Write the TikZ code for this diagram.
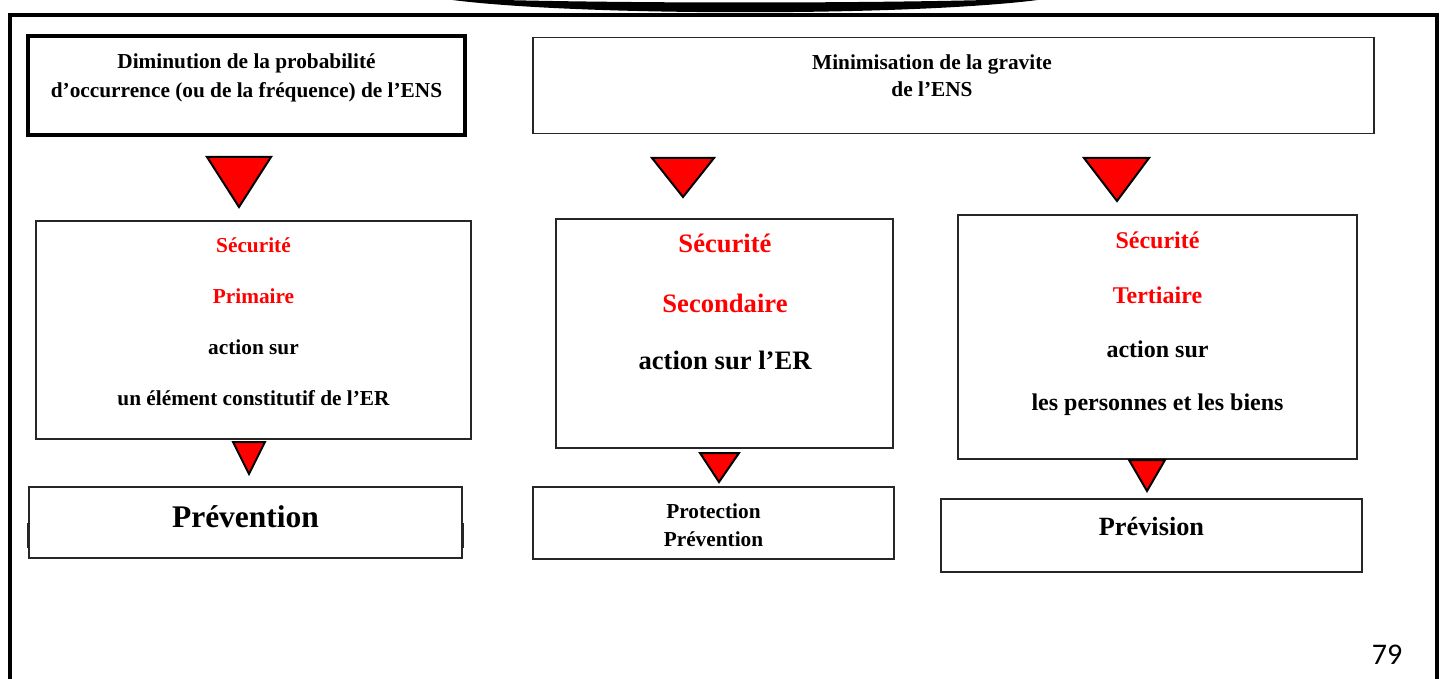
\documentclass[tikz,border=0pt]{standalone}
\usepackage{fontspec}
\setmainfont{Liberation Serif}
\newfontfamily\pagenumfont{Carlito}
\begin{document}
\begin{tikzpicture}[x=1pt,y=-1pt,
  box/.style={draw=black!85, line width=1.6pt, inner sep=0pt, fill=white},
  thickbox/.style={draw=black, line width=4pt, inner sep=0pt, fill=white},
  tri/.style={fill=red, draw=black, line width=2pt, line join=miter},
  lbl/.style={inner sep=0pt, anchor=base, font=\bfseries},
  redlbl/.style={lbl, text=red}
]
\useasboundingbox (0,0) rectangle (1446,679);
\fill[white] (0,0) rectangle (1446,679);

% top swoosh
\fill[black] (438,-2) .. controls (560,17) and (930,17) .. (1052,-2)
  .. controls (900,4) and (590,4) .. (438,-2) -- cycle;

% outer frame
\draw[line width=4pt, line join=miter] (9.5,682) -- (9.5,15) -- (1437,15) -- (1437,682);

% top boxes
\node[thickbox, minimum width=437pt, minimum height=99pt] (A) at (246.5,85.5) {};
\node[lbl, font=\bfseries\fontsize{21.3}{25}\selectfont] (A1) at (246.5,69) {Diminution de la probabilité};
\node[lbl, font=\bfseries\fontsize{21.3}{25}\selectfont] (A2) at (246.5,98) {d’occurrence (ou de la fréquence) de l’ENS};

\node[box, minimum width=841pt, minimum height=96pt] (B) at (953.5,85.5) {};
\node[lbl, font=\bfseries\fontsize{21.3}{25}\selectfont] (B1) at (932,70) {Minimisation de la gravite};
\node[lbl, font=\bfseries\fontsize{21.3}{25}\selectfont] (B2) at (932,97) {de l’ENS};

% middle boxes
\node[box, minimum width=435pt, minimum height=218pt] (C) at (253.5,330) {};
\node[redlbl, font=\bfseries\fontsize{21.3}{25}\selectfont] (C1) at (253.5,252) {Sécurité};
\node[redlbl, font=\bfseries\fontsize{21.3}{25}\selectfont] (C2) at (253.5,303) {Primaire};
\node[lbl, font=\bfseries\fontsize{21.3}{25}\selectfont] (C3) at (253.5,354) {action sur};
\node[lbl, font=\bfseries\fontsize{21.3}{25}\selectfont] (C4) at (253.5,405) {un élément constitutif de l’ER};

\node[box, minimum width=337pt, minimum height=229pt] (E) at (724.5,333.5) {};
\node[redlbl, font=\bfseries\fontsize{26.6}{30}\selectfont] (E1) at (725,253) {Sécurité};
\node[redlbl, font=\bfseries\fontsize{26.6}{30}\selectfont] (E2) at (725,312) {Secondaire};
\node[lbl, font=\bfseries\fontsize{26.6}{30}\selectfont] (E3) at (725,369) {action sur l’ER};

\node[box, minimum width=399pt, minimum height=244pt] (G) at (1157.5,337) {};
\node[redlbl, font=\bfseries\fontsize{24}{28}\selectfont] (G1) at (1157.5,249) {Sécurité};
\node[redlbl, font=\bfseries\fontsize{24}{28}\selectfont] (G2) at (1157.5,303) {Tertiaire};
\node[lbl, font=\bfseries\fontsize{24}{28}\selectfont] (G3) at (1157.5,357) {action sur};
\node[lbl, font=\bfseries\fontsize{24}{28}\selectfont] (G4) at (1157.5,410) {les personnes et les biens};

% bottom boxes
\draw[line width=1.6pt, black!85] (27.5,523) -- (27.5,548) (463.5,523) -- (463.5,548);
\node[box, minimum width=433pt, minimum height=71pt] (D) at (245.5,522.5) {};
\node[lbl, font=\bfseries\fontsize{31.5}{36}\selectfont] (D1) at (245.5,527) {Prévention};

\node[box, line width=2.2pt, minimum width=361pt, minimum height=72pt] (F) at (713.5,523) {};
\node[lbl, font=\bfseries\fontsize{21.3}{25}\selectfont] (F1) at (713.5,518) {Protection};
\node[lbl, font=\bfseries\fontsize{21.3}{25}\selectfont] (F2) at (713.5,546) {Prévention};

\node[box, minimum width=421pt, minimum height=73pt] (H) at (1151.5,535.5) {};
\node[lbl, font=\bfseries\fontsize{26.3}{30}\selectfont] (H1) at (1151.5,535) {Prévision};

% red triangle arrows
\draw[tri] (207,157) -- (271,157) -- (239,207) -- cycle;
\draw[tri] (652,158) -- (714,158) -- (683,197) -- cycle;
\draw[tri] (1084,158) -- (1149,158) -- (1117,201) -- cycle;
\draw[tri] (233,442) -- (265,442) -- (249,474) -- cycle;
\draw[tri] (700,453) -- (739,453) -- (719,482) -- cycle;
\draw[tri] (1129,460) -- (1165,460) -- (1147,491) -- cycle;

% page number
\node[inner sep=0pt, font=\pagenumfont\fontsize{30}{34}\selectfont] (pn) at (1387,655) {79};
\end{tikzpicture}
\end{document}
